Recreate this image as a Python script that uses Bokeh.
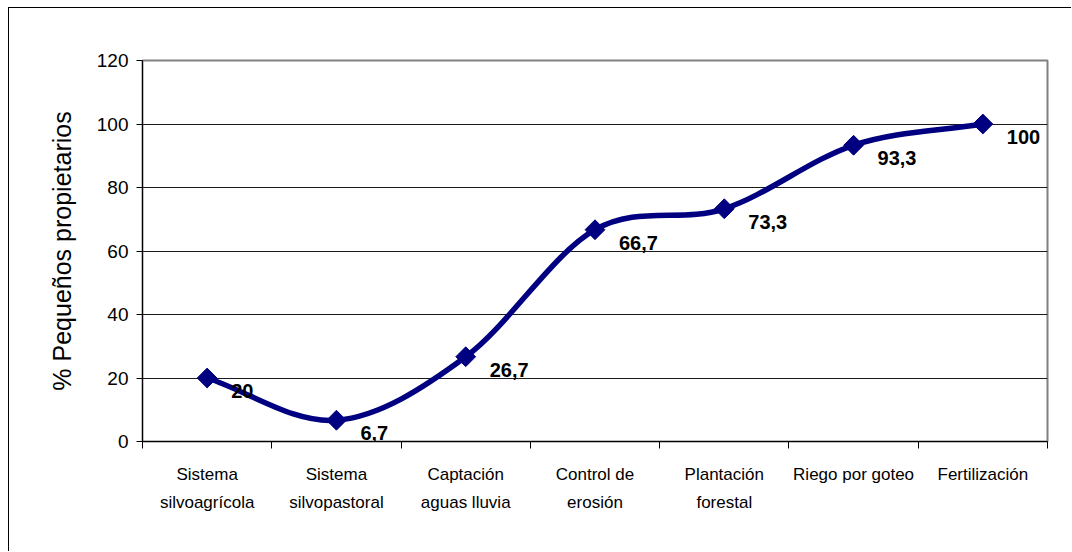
from bokeh.plotting import figure
from bokeh.models import FixedTicker, LinearAxis, Range1d, ColumnDataSource
from bokeh.core.properties import value
from bokeh.embed import file_html
from bokeh.resources import INLINE

# --- data -------------------------------------------------------------
categories_line1 = ["Sistema", "Sistema", "Captación", "Control de",
                    "Plantación", "Riego por goteo", "Fertilización"]
categories_line2 = ["silvoagrícola", "silvopastoral", "aguas lluvia",
                    "erosión", "forestal", "", ""]
values = [20, 6.7, 26.7, 66.7, 73.3, 93.3, 100]
value_labels = ["20", "6,7", "26,7", "66,7", "73,3", "93,3", "100"]
y_ticks = [0, 20, 40, 60, 80, 100, 120]

FONT = "Liberation Sans"
NAVY = "#000080"

n = len(values)
xs = [i + 0.5 for i in range(n)]          # category centres
boundaries = list(range(n + 1))           # tick marks between categories

# --- smoothed line: cubic Bezier segments (Catmull-Rom style tangents) --
def tangent(i):
    if i == 0:
        return ((xs[1] - xs[0]) / 3, (values[1] - values[0]) / 3)
    if i == n - 1:
        return ((xs[-1] - xs[-2]) / 3, (values[-1] - values[-2]) / 3)
    return ((xs[i + 1] - xs[i - 1]) / 6, (values[i + 1] - values[i - 1]) / 6)

seg = dict(x0=[], y0=[], x1=[], y1=[], cx0=[], cy0=[], cx1=[], cy1=[])
for i in range(n - 1):
    t0, t1 = tangent(i), tangent(i + 1)
    seg["x0"].append(xs[i]); seg["y0"].append(values[i])
    seg["x1"].append(xs[i + 1]); seg["y1"].append(values[i + 1])
    seg["cx0"].append(xs[i] + t0[0]); seg["cy0"].append(values[i] + t0[1])
    seg["cx1"].append(xs[i + 1] - t1[0]); seg["cy1"].append(values[i + 1] - t1[1])

p = figure(width=1063, height=544, x_range=Range1d(0, n), y_range=Range1d(0, 120),
           output_backend="svg", toolbar_location=None,
           min_border_left=133, min_border_top=52, min_border_right=25,
           min_border_bottom=111)
p.margin = (7, 0, 0, 8)
p.styles = {"border-left": "1px solid #000000", "border-top": "1px solid #000000"}
p.background_fill_color = "white"
p.border_fill_color = "white"
p.outline_line_color = "#808080"
p.outline_line_width = 2

# grid
p.xgrid.visible = False
p.ygrid.ticker = FixedTicker(ticks=y_ticks[1:-1])
p.ygrid.grid_line_color = "#1a1a1a"
p.ygrid.grid_line_width = 1

# y axis
ya = p.yaxis[0]
ya.ticker = FixedTicker(ticks=y_ticks)
ya.axis_line_color = "#000000"
ya.axis_line_width = 1
ya.major_tick_in = 0
ya.major_tick_out = 6
ya.major_tick_line_color = "#000000"
ya.minor_tick_line_color = None
ya.major_label_text_font = FONT
ya.major_label_text_font_size = "19px"
ya.major_label_text_color = "#000000"
ya.major_label_standoff = 8
ya.axis_label = "% Pequeños propietarios"
ya.axis_label_text_font = FONT
ya.axis_label_text_font_size = "25px"
ya.axis_label_text_font_style = "normal"
ya.axis_label_text_color = "#000000"
ya.axis_label_standoff = 18

# x axis: first line of category names, tick marks on category boundaries
xa = p.xaxis[0]
xa.ticker = FixedTicker(ticks=xs, minor_ticks=boundaries)
xa.major_label_overrides = {x: t for x, t in zip(xs, categories_line1)}
xa.axis_line_color = "#000000"
xa.axis_line_width = 1
xa.major_tick_in = 0
xa.major_tick_out = 0
xa.major_tick_line_color = None
xa.minor_tick_in = 0
xa.minor_tick_out = 7
xa.minor_tick_line_color = "#000000"
xa.major_label_text_font = FONT
xa.major_label_text_font_size = "17px"
xa.major_label_text_color = "#000000"
xa.major_label_standoff = 16

# second line of category names
xa2 = LinearAxis(ticker=FixedTicker(ticks=xs, minor_ticks=[]))
xa2.major_label_overrides = {x: t for x, t in zip(xs, categories_line2)}
xa2.axis_line_color = None
xa2.major_tick_line_color = None
xa2.minor_tick_line_color = None
xa2.major_tick_in = 0
xa2.major_tick_out = 0
xa2.major_label_text_font = FONT
xa2.major_label_text_font_size = "17px"
xa2.major_label_text_color = "#000000"
xa2.major_label_standoff = 6
p.add_layout(xa2, "below")

# series
p.bezier(x0="x0", y0="y0", x1="x1", y1="y1", cx0="cx0", cy0="cy0",
         cx1="cx1", cy1="cy1", source=ColumnDataSource(seg),
         line_color=NAVY, line_width=5.5)

pts = ColumnDataSource(dict(x=xs, y=values, label=value_labels))
p.scatter("x", "y", source=pts, marker="square", size=14, angle=0.785398,
          fill_color=NAVY, line_color=NAVY)

p.text("x", "y", text="label", source=pts, x_offset=24, y_offset=13,
       text_font=value(FONT), text_font_size="20px", text_font_style="bold",
       text_color="#000000", text_align="left", text_baseline="middle")

open("out.html", "w").write(file_html(p, INLINE))
